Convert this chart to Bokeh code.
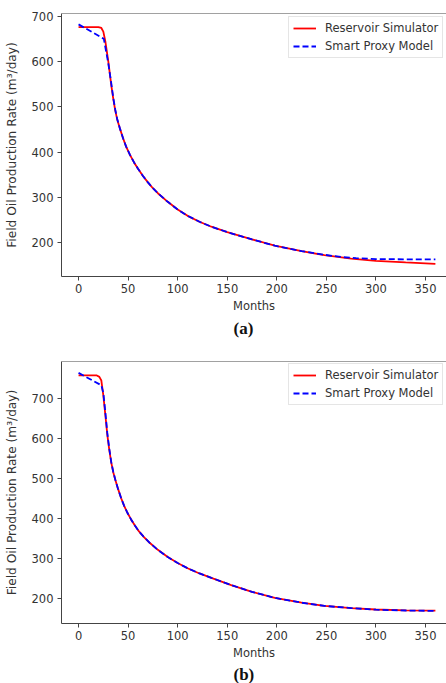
from bokeh.plotting import figure
from bokeh.layouts import column
from bokeh.models import Range1d, FixedTicker, Legend, LegendItem, Title, Span
from bokeh.embed import file_html
from bokeh.resources import INLINE

# ---- data (a) ----
a_sim_t = [0, 10, 20, 23, 25, 27, 30, 33, 35, 37, 39, 42, 45, 48, 52, 56, 60, 65, 70, 75, 80, 90, 100, 110, 122, 134, 150, 175, 198, 225, 248, 275, 300, 330, 360]
a_sim_v = [676, 676, 676, 674, 666, 645, 600, 548, 518, 492, 472, 450, 430, 412, 393, 377, 363, 347, 333, 320, 309, 290, 273, 259, 246, 235, 223, 207, 193, 181, 172, 164.5, 159.5, 156, 153]
a_spm_t = [0, 25.5, 27, 30, 33, 35, 37, 39, 42, 45, 48, 52, 56, 60, 65, 70, 75, 80, 90, 100, 110, 122, 134, 150, 175, 198, 225, 248, 265, 280, 300, 330, 360]
a_spm_v = [682, 650, 632, 596, 552, 520, 494, 473, 450, 430, 412, 393, 377, 363, 347, 333, 320, 309, 290, 273, 259, 246, 235, 223, 207, 193, 181, 173, 168, 165.5, 163.5, 163, 163]

# ---- data (b) ----
b_sim_t = [0, 10, 18, 21, 23, 25, 27, 29, 31, 33, 35, 37, 40, 43, 46, 49, 53, 57, 61, 66, 72, 80, 90, 100, 110, 122, 134, 154, 175, 198, 225, 248, 275, 300, 330, 360]
b_sim_v = [758, 758, 758, 754, 745, 708, 660, 610, 572, 540, 516, 498, 473, 451, 432, 416, 398, 382, 368, 354, 339, 322, 304, 289, 276, 263, 252, 234, 217, 202, 190, 182, 176.5, 173, 171, 170]
b_spm_t = [0, 23, 25, 27, 29, 31, 33, 35, 37, 40, 43, 46, 49, 53, 57, 61, 66, 72, 80, 90, 100, 110, 122, 134, 154, 175, 198, 225, 248, 275, 300, 330, 360]
b_spm_v = [764, 733, 714, 667, 614, 575, 541, 517, 498, 473, 451, 432, 416, 398, 382, 368, 354, 339, 322, 304, 289, 276, 263, 252, 234, 217, 202, 190, 182, 176.5, 172.5, 170.5, 169.5]

y_ticks = [200, 300, 400, 500, 600, 700]
x_ticks = [0, 50, 100, 150, 200, 250, 300, 350]
series_names = ["Reservoir Simulator", "Smart Proxy Model"]
captions = ["(a)", "(b)"]

FONT = "DejaVu Sans"
AX_COLOR = "#444444"
TXT_COLOR = "#333333"


def make_panel(sim_t, sim_v, spm_t, spm_v, y0, y1, height, top, bottom, caption,
               leg_y, cap_standoff, cap_lh):
    p = figure(width=446, height=height, output_backend="svg", toolbar_location=None,
               x_range=Range1d(-17.2, 371.2), y_range=Range1d(y0, y1),
               min_border_left=61, min_border_right=0, min_border_top=top,
               min_border_bottom=bottom)
    p.grid.visible = False
    p.outline_line_color = None
    p.background_fill_color = "white"
    p.border_fill_color = "white"

    r1 = p.line(sim_t, sim_v, line_color="#ff0000", line_width=1.8)
    r2 = p.line(spm_t, spm_v, line_color="#0000ff", line_width=1.8, line_dash="6 3")

    for ax in (p.xaxis[0], p.yaxis[0]):
        ax.axis_line_color = AX_COLOR
        ax.major_tick_line_color = AX_COLOR
        ax.minor_tick_line_color = None
        ax.major_tick_in = 0
        ax.major_tick_out = 4
        ax.major_label_text_font = FONT
        ax.major_label_text_font_size = "11.5px"
        ax.major_label_text_color = TXT_COLOR
        ax.axis_label_text_font = FONT
        ax.axis_label_text_font_size = "11.5px"
        ax.axis_label_text_font_style = "normal"
        ax.axis_label_text_color = TXT_COLOR
    p.yaxis.axis_label_text_font_size = "12.2px"
    p.xaxis.ticker = FixedTicker(ticks=x_ticks)
    p.yaxis.ticker = FixedTicker(ticks=y_ticks)
    p.xaxis.axis_label = "Months"
    p.yaxis.axis_label = "Field Oil Production Rate (m³/day)"
    p.xaxis.major_label_standoff = 3
    p.xaxis.axis_label_standoff = 3
    p.yaxis.major_label_standoff = 4
    p.yaxis.axis_label_standoff = 10

    # top border of frame
    p.add_layout(Span(location=y1, dimension="width", line_color=AX_COLOR, line_width=1))

    legend = Legend(items=[LegendItem(label=series_names[0], renderers=[r1]),
                           LegendItem(label=series_names[1], renderers=[r2])],
                    location=(227, leg_y))
    legend.label_text_font = FONT
    legend.label_text_font_size = "11.5px"
    legend.label_text_color = TXT_COLOR
    legend.glyph_width = 23
    legend.glyph_height = 14
    legend.label_height = 14
    legend.label_standoff = 9
    legend.spacing = 4
    legend.padding = 4
    legend.margin = 0
    legend.border_line_color = "#cccccc"
    legend.border_line_width = 1
    legend.background_fill_alpha = 0.9
    p.add_layout(legend)

    t = Title(text=caption, align="left", text_font="Liberation Serif",
              text_font_size="17px", text_font_style="bold", text_color="#111111",
              offset=172, standoff=cap_standoff, text_line_height=cap_lh)
    p.add_layout(t, "below")
    return p


p1 = make_panel(a_sim_t, a_sim_v, a_spm_t, a_spm_v, 125, 706, 340, 13, 64, captions[0], 218, 2, 1.0)
p2 = make_panel(b_sim_t, b_sim_v, b_spm_t, b_spm_v, 138, 792.5, 343, 21, 58, captions[1], 218, 0, 0.8)

layout = column(p1, p2, spacing=0)
open("out.html", "w").write(file_html(layout, INLINE))
